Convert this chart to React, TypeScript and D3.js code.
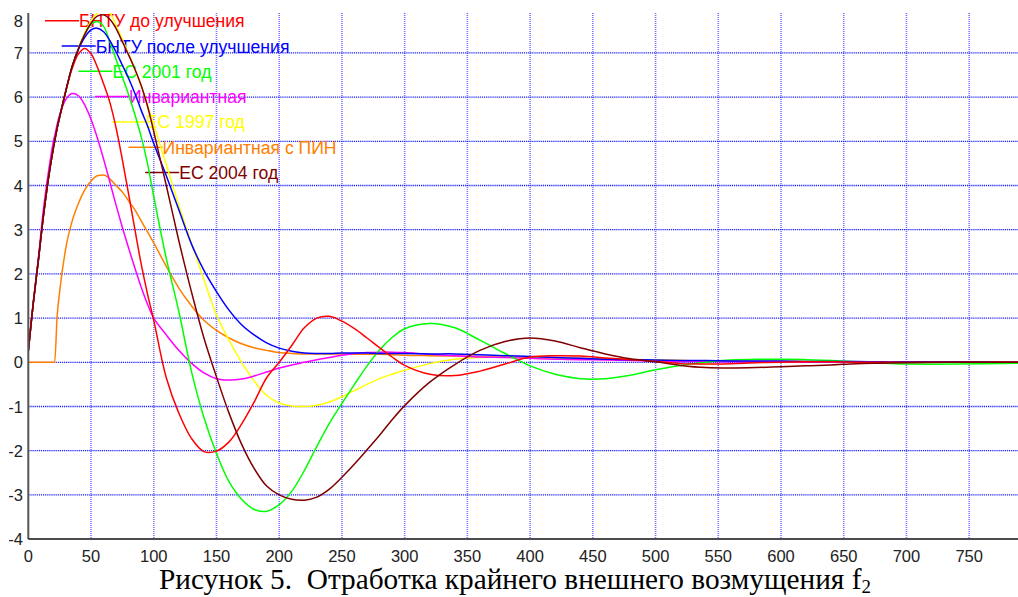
import React from "react";
import * as d3 from "d3";

// time grid (x values) shared by all series
const T = [0, 4, 8, 12, 16, 20, 21, 23, 25, 30, 35, 40, 45, 50, 55, 60, 65, 70, 75, 80, 85, 90, 95, 100,
  110, 120, 130, 140, 150, 160, 170, 180, 190, 200, 210, 220, 230, 240, 250, 260, 270, 280, 290, 300,
  320, 340, 360, 380, 400, 420, 440, 460, 480, 500, 520, 540, 560, 580, 600, 620, 640, 660, 680, 700, 740, 790];

const bntuBefore = [0.25, 1.35, 2.3, 3.3, 4.15, 4.85, 5.0, 5.3, 5.55, 6.15, 6.65, 6.98, 7.1, 6.98, 6.68, 6.3, 5.88, 5.3, 4.58, 3.8, 3.0, 2.22, 1.55, 0.95,
  -0.35, -1.15, -1.72, -2.02, -2.01, -1.8, -1.4, -0.9, -0.35, 0.0, 0.38, 0.78, 1.0, 1.04, 0.93, 0.76, 0.55, 0.33, 0.12, -0.07,
  -0.27, -0.3, -0.2, -0.04, 0.12, 0.15, 0.14, 0.1, 0.06, 0.02, -0.03, -0.04, -0.03, -0.01, 0.0, 0.01, 0.01, 0.0, 0.0, 0.0, 0.0, 0.0];

const bntuAfter = [0.25, 1.35, 2.3, 3.3, 4.15, 4.85, 5.0, 5.3, 5.55, 6.15, 6.7, 7.08, 7.35, 7.52, 7.56, 7.48, 7.28, 7.02, 6.72, 6.42, 6.08, 5.7, 5.35, 4.95,
  4.22, 3.45, 2.68, 2.08, 1.6, 1.18, 0.85, 0.62, 0.44, 0.32, 0.25, 0.21, 0.2, 0.2, 0.21, 0.21, 0.21, 0.2, 0.2, 0.2,
  0.19, 0.19, 0.17, 0.15, 0.13, 0.11, 0.09, 0.07, 0.06, 0.05, 0.04, 0.04, 0.03, 0.03, 0.03, 0.02, 0.02, 0.02, 0.01, 0.01, 0.01, 0.0];

const es2001 = [0.25, 1.35, 2.3, 3.3, 4.15, 4.85, 5.0, 5.3, 5.55, 6.15, 6.7, 7.1, 7.42, 7.65, 7.71, 7.6, 7.25, 6.85, 6.45, 6.05, 5.6, 5.1, 4.5, 3.75,
  2.35, 1.15, -0.2, -1.25, -2.06, -2.7, -3.1, -3.33, -3.37, -3.22, -2.92, -2.45, -1.9, -1.38, -0.93, -0.5, -0.08, 0.28, 0.56, 0.76,
  0.88, 0.78, 0.5, 0.2, -0.08, -0.27, -0.37, -0.37, -0.29, -0.17, -0.07, 0.0, 0.05, 0.07, 0.07, 0.06, 0.04, 0.01, -0.02, -0.04, -0.04, -0.02];

const invariant = [0.25, 1.35, 2.35, 3.45, 4.3, 5.0, 5.12, 5.38, 5.6, 5.95, 6.08, 6.03, 5.82, 5.5, 5.08, 4.6, 4.08, 3.55, 3.05, 2.58, 2.13, 1.7, 1.32, 1.0,
  0.62, 0.27, -0.02, -0.24, -0.37, -0.4, -0.38, -0.31, -0.22, -0.13, -0.06, 0.0, 0.06, 0.11, 0.16, 0.2, 0.22, 0.23, 0.23, 0.22,
  0.18, 0.15, 0.12, 0.11, 0.09, 0.07, 0.06, 0.05, 0.04, 0.03, 0.02, 0.02, 0.01, 0.01, 0.01, 0.0, 0.0, 0.0, 0.0, 0.0, 0.0, 0.0];

const es1997 = [0.25, 1.35, 2.3, 3.3, 4.15, 4.85, 5.0, 5.3, 5.55, 6.15, 6.7, 7.1, 7.45, 7.72, 7.9, 7.97, 7.9, 7.62, 7.3, 6.98, 6.62, 6.25, 5.82, 5.38,
  4.47, 3.55, 2.7, 1.87, 1.07, 0.5, 0.0, -0.42, -0.75, -0.92, -0.99, -1.0, -0.97, -0.9, -0.78, -0.64, -0.5, -0.37, -0.27, -0.18,
  -0.03, 0.07, 0.11, 0.11, 0.1, 0.09, 0.08, 0.07, 0.06, 0.05, 0.04, 0.03, 0.03, 0.02, 0.02, 0.02, 0.01, 0.01, 0.01, 0.01, 0.0, 0.0];

const invariantPin = [0, 0, 0, 0, 0, 0, 0, 1.05, 1.6, 2.6, 3.2, 3.6, 3.9, 4.1, 4.22, 4.24, 4.15, 4.0, 3.85, 3.65, 3.45, 3.2, 2.95, 2.7,
  2.17, 1.68, 1.28, 0.95, 0.72, 0.55, 0.42, 0.33, 0.27, 0.22, 0.2, 0.19, 0.19, 0.19, 0.19, 0.18, 0.18, 0.18, 0.17, 0.16,
  0.15, 0.14, 0.13, 0.12, 0.11, 0.1, 0.09, 0.07, 0.06, 0.05, 0.04, 0.03, 0.03, 0.02, 0.02, 0.02, 0.01, 0.01, 0.01, 0.01, 0.01, 0.01];

const es2004 = [0.25, 1.35, 2.3, 3.3, 4.15, 4.85, 5.0, 5.3, 5.55, 6.15, 6.7, 7.1, 7.42, 7.67, 7.83, 7.86, 7.76, 7.55, 7.25, 6.95, 6.63, 6.26, 5.8, 5.22,
  4.0, 2.75, 1.6, 0.55, -0.33, -1.15, -1.85, -2.4, -2.8, -3.0, -3.1, -3.12, -3.05, -2.87, -2.6, -2.3, -1.98, -1.65, -1.3, -0.98,
  -0.45, -0.05, 0.27, 0.47, 0.55, 0.48, 0.33, 0.19, 0.08, 0.01, -0.07, -0.12, -0.13, -0.12, -0.1, -0.08, -0.06, -0.03, -0.02, -0.01, 0.0, 0.0];

const seriesNames = ["БНТУ до улучшения", "БНТУ после улучшения", "ЕС 2001 год", "Инвариантная", "ЕС 1997 год", "Инвариантная с ПИН", "ЕС 2004 год"];
const seriesValues = [bntuBefore, bntuAfter, es2001, invariant, es1997, invariantPin, es2004];
const seriesColors = ["#ff0000", "#0000ff", "#00ff00", "#ff00ff", "#ffff00", "#ff8000", "#800000"];
const drawOrder = [5, 4, 3, 2, 1, 0, 6];

const xTickValues = [0, 50, 100, 150, 200, 250, 300, 350, 400, 450, 500, 550, 600, 650, 700, 750];
const yTickValues = [-4, -3, -2, -1, 0, 1, 2, 3, 4, 5, 6, 7, 8];

const W = 1018;
const H = 597;
const plotLeft = 28.3;
const plotRight = 1018;
const plotTop = 13;
const plotBottom = 539.1;

export default function App() {
  const x = d3.scaleLinear().domain([0, 790]).range([plotLeft, plotLeft + 790 * 1.2545]);
  const y = d3.scaleLinear().domain([-4, 8]).range([plotBottom, 8.7]);
  const smooth = d3
    .line<number>()
    .x((_, i) => x(T[i]))
    .y((d) => y(d))
    .curve(d3.curveCatmullRom.alpha(0.5));
  const mono = d3
    .line<number>()
    .x((_, i) => x(T[i]))
    .y((d) => y(d))
    .curve(d3.curveMonotoneX);

  const sans = "'Liberation Sans', Arial, sans-serif";
  const serif = "'Liberation Serif', 'Times New Roman', serif";

  return (
    <svg
      width={W}
      height={H}
      viewBox={`0 0 ${W} ${H}`}
      style={{ position: "absolute", left: 0, top: 0, background: "#fff" }}
    >
      <defs>
        <clipPath id="plotClip">
          <rect x={plotLeft} y={plotTop} width={plotRight - plotLeft} height={plotBottom - plotTop} />
        </clipPath>
        <clipPath id="labelClip">
          <rect x={9} y={0} width={W} height={H} />
        </clipPath>
      </defs>
      <rect x={0} y={0} width={W} height={H} fill="#fff" />

      {/* vertical grid */}
      {xTickValues
        .filter((v) => v > 0)
        .map((v) => (
          <line
            key={"vx" + v}
            x1={x(v)}
            x2={x(v)}
            y1={plotTop}
            y2={plotBottom}
            stroke="#4848ff"
            strokeWidth={1.6}
            strokeDasharray="1,1"
            opacity={0.75}
          />
        ))}
      {/* horizontal grid */}
      {yTickValues
        .filter((v) => v > -4 && v < 8)
        .map((v) => (
          <line
            key={"hy" + v}
            x1={plotLeft}
            x2={plotRight}
            y1={y(v)}
            y2={y(v)}
            stroke="#1010ff"
            strokeWidth={1.3}
            strokeDasharray="1.2,0.9"
            opacity={0.95}
          />
        ))}

      {/* legend (under curves) */}
      {seriesNames.map((name, i) => {
        const x0 = 45 + i * 16.7;
        const ly = 20.7 + i * 25.3;
        return (
          <g key={"lg" + i}>
            <line x1={x0} x2={x0 + 34} y1={ly} y2={ly} stroke={seriesColors[i]} strokeWidth={1.5} />
            <text x={x0 + 34} y={ly + 6.5} fontFamily={sans} fontSize={17.6} fill={seriesColors[i]}>
              {name}
            </text>
          </g>
        );
      })}

      {/* curves */}
      <g clipPath="url(#plotClip)">
        {drawOrder.map((i) => (
          <path
            key={"s" + i}
            d={(i === 5 ? mono(seriesValues[i]) : smooth(seriesValues[i])) || ""}
            fill="none"
            stroke={seriesColors[i]}
            strokeWidth={1.5}
          />
        ))}
      </g>

      {/* axes */}
      <line x1={plotLeft} x2={plotLeft} y1={plotTop} y2={plotBottom} stroke="#555" strokeWidth={2} />
      <line x1={plotLeft} x2={plotRight} y1={plotBottom} y2={plotBottom} stroke="#111" strokeWidth={1.5} />

      {/* y tick labels */}
      <g clipPath="url(#labelClip)">
        {yTickValues.map((v) => (
          <text
            key={"yl" + v}
            x={23}
            y={Math.max(y(v), 21)}
            textAnchor="end"
            dominantBaseline="central"
            fontFamily={sans}
            fontSize={16.5}
            fill="#222"
          >
            {String(v)}
          </text>
        ))}
      </g>

      {/* x tick labels */}
      {xTickValues.map((v) => (
        <text key={"xl" + v} x={x(v)} y={562} textAnchor="middle" fontFamily={sans} fontSize={16.5} fill="#222">
          {String(v)}
        </text>
      ))}

      {/* caption */}
      <text x={159} y={589} fontFamily={serif} fontSize={29.3} fill="#000" style={{ whiteSpace: "pre" }}>
        {"Рисунок 5.  Отработка крайнего внешнего возмущения f"}
        <tspan fontSize={19} dy={4}>
          2
        </tspan>
      </text>
    </svg>
  );
}
